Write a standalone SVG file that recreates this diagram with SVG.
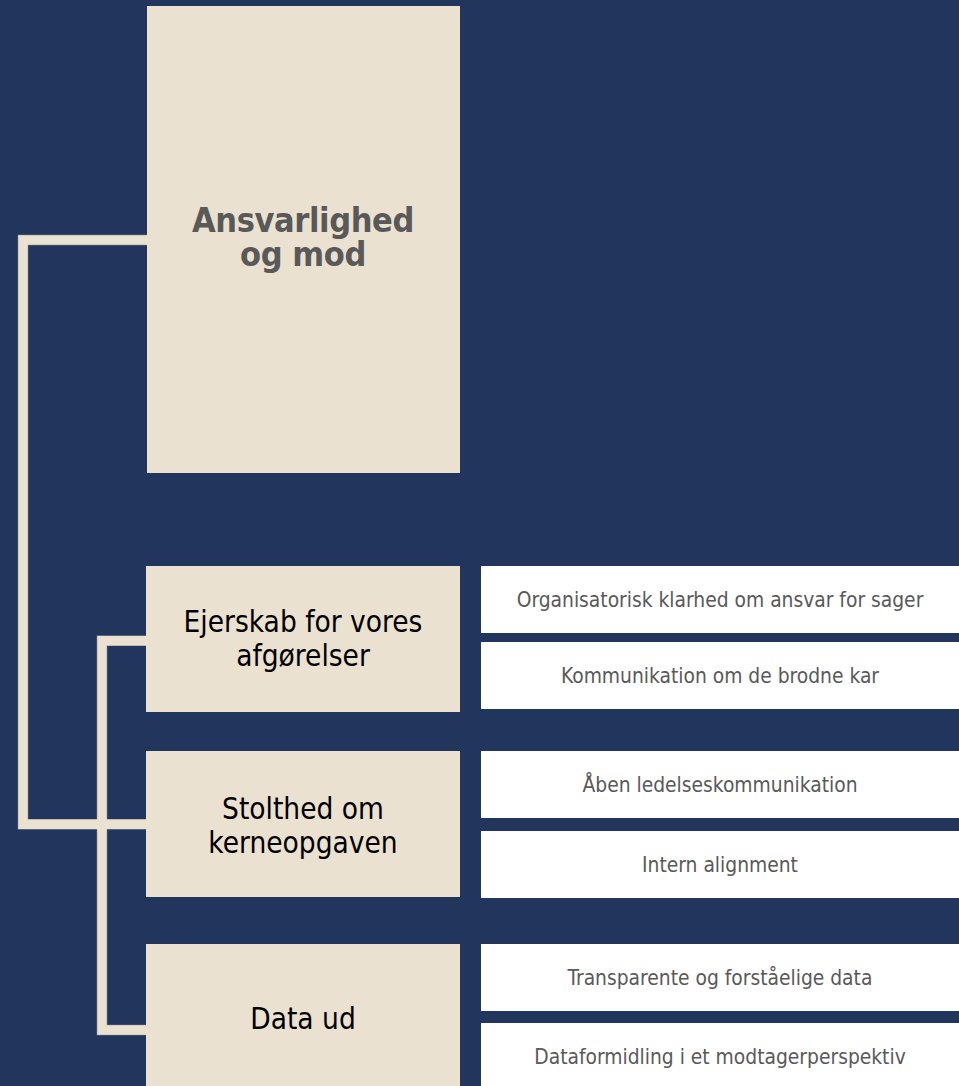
<svg xmlns="http://www.w3.org/2000/svg" width="959" height="1086" viewBox="0 0 959 1086">
<style>
.bg{fill:#22355C}
.node{fill:#EBE1D0}
.leaf{fill:#FFFFFF}
.conn-edge{fill:none;stroke:#8E93A0;stroke-width:10.5;stroke-linejoin:miter}
.conn{fill:none;stroke:#EBE1D0;stroke-width:9.4;stroke-linejoin:miter}
.title{font-family:"DejaVu Sans Condensed","DejaVu Sans",sans-serif;font-stretch:condensed;font-weight:bold;font-size:34px;letter-spacing:-0.4px;fill:#595959;text-anchor:middle}
.lbl{font-family:"DejaVu Sans Condensed","DejaVu Sans",sans-serif;font-stretch:condensed;font-size:29.5px;fill:#000000;text-anchor:middle}
.sub{font-family:"DejaVu Sans Condensed","DejaVu Sans",sans-serif;font-stretch:condensed;font-size:20.8px;fill:#595959;text-anchor:middle}
</style>
<rect class="bg" x="0" y="0" width="959" height="1086"/>
<g id="connectors">
<path class="conn-edge" d="M147,240 H23 V824.3 H147"/>
<path class="conn-edge" d="M147,640.7 H102 V1030 H147"/>
<path class="conn" d="M147,240 H23 V824.3 H147"/>
<path class="conn" d="M147,640.7 H102 V1030 H147"/>
</g>
<g id="node-ansvarlighed">
<rect class="node" x="147" y="6" width="313" height="467"/>
<text class="title" x="303" y="231.5">Ansvarlighed</text>
<text class="title" x="303" y="266">og mod</text>
</g>
<g id="node-ejerskab">
<rect class="node" x="146" y="566" width="314" height="146"/>
<text class="lbl" x="303" y="632">Ejerskab for vores</text>
<text class="lbl" x="303" y="666">afgørelser</text>
</g>
<g id="node-stolthed">
<rect class="node" x="146" y="751" width="314" height="146"/>
<text class="lbl" x="303" y="818.5">Stolthed om</text>
<text class="lbl" x="303" y="853">kerneopgaven</text>
</g>
<g id="node-data">
<rect class="node" x="146" y="944" width="314" height="146"/>
<text class="lbl" x="303" y="1028.5">Data ud</text>
</g>
<g id="leaf-1">
<rect class="leaf" x="481" y="566" width="478" height="67"/>
<text class="sub" x="720" y="606.5">Organisatorisk klarhed om ansvar for sager</text>
</g>
<g id="leaf-2">
<rect class="leaf" x="481" y="642" width="478" height="67"/>
<text class="sub" x="720" y="682.5">Kommunikation om de brodne kar</text>
</g>
<g id="leaf-3">
<rect class="leaf" x="481" y="751" width="478" height="67"/>
<text class="sub" x="720" y="791.5">Åben ledelseskommunikation</text>
</g>
<g id="leaf-4">
<rect class="leaf" x="481" y="831" width="478" height="67"/>
<text class="sub" x="720" y="871.5">Intern alignment</text>
</g>
<g id="leaf-5">
<rect class="leaf" x="481" y="944" width="478" height="67"/>
<text class="sub" x="720" y="984.5">Transparente og forståelige data</text>
</g>
<g id="leaf-6">
<rect class="leaf" x="481" y="1023" width="478" height="67"/>
<text class="sub" x="720" y="1063.5">Dataformidling i et modtagerperspektiv</text>
</g>
</svg>
